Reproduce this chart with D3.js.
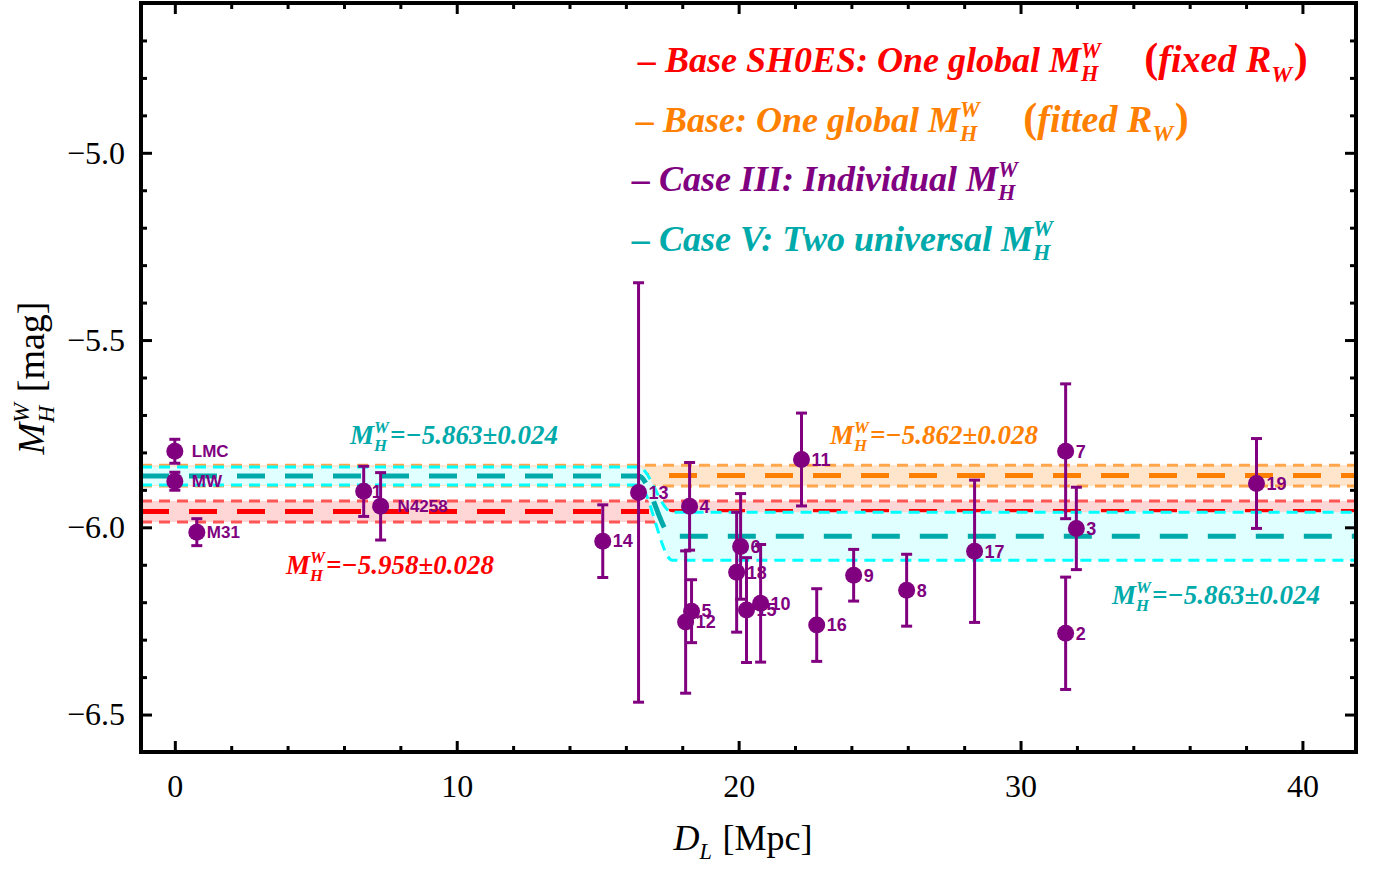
<!DOCTYPE html>
<html>
<head>
<meta charset="utf-8">
<script src="https://cdn.jsdelivr.net/npm/d3@7"></script>
<style>
  body { margin: 0; background: #fff; }
  text { white-space: pre; }
</style>
</head>
<body>
<svg id="chart" width="1387" height="869"></svg>
<script>
// galaxy / host labels, distances [Mpc], M_H^W [mag] and 1-sigma errors
var names  = ["LMC", "MW", "M31", "1", "N4258", "14", "13", "12", "5", "4", "18", "6", "15", "10", "11", "16", "9", "8", "17", "7", "3", "2", "19"];
var dist   = [0.0, 0.0, 0.78, 6.70, 7.30, 15.18, 16.45, 18.12, 18.33, 18.26, 19.93, 20.07, 20.28, 20.78, 22.23, 22.77, 24.08, 25.96, 28.37, 31.6, 31.98, 31.6, 38.37];
var magW   = [-5.797, -5.877, -6.013, -5.904, -5.944, -6.037, -5.907, -6.253, -6.224, -5.944, -6.120, -6.051, -6.221, -6.203, -5.819, -6.261, -6.128, -6.168, -6.064, -5.797, -6.003, -6.283, -5.883];
var magErr = [0.032, 0.024, 0.036, 0.067, 0.090, 0.097, 0.560, 0.190, 0.084, 0.117, 0.160, 0.141, 0.140, 0.157, 0.124, 0.097, 0.069, 0.096, 0.190, 0.180, 0.110, 0.150, 0.120];

// global fits (value, error)
var baseShoes = [-5.958, 0.028];   // fixed R_W
var baseFit   = [-5.862, 0.028];   // fitted R_W
// Case V: two universal values, left / right of the step
var caseVMean = [-5.863, -6.024];
var caseVErr  = [0.024, 0.064];
var caseVStep = [16.45, 17.65];    // D range where the step happens

var xMajor = [0, 10, 20, 30, 40];
var yMajor = [-6.5, -6.0, -5.5, -5.0];

var frame = {left: 141, right: 1356, top: 3, bottom: 752};
var serif = "'Liberation Serif', 'Times New Roman', serif";
var sans = "'Liberation Sans', Arial, sans-serif";
var purple = "#800080";

var svg = d3.select("#chart");

var x = d3.scaleLinear().domain([-1.2, 41.9]).range([frame.left, frame.right]);
var y = d3.scaleLinear().domain([-6.6, -4.6]).range([frame.bottom, frame.top]);
var xd = x.domain();

svg.append("defs").append("clipPath").attr("id", "plotclip")
  .append("rect").attr("x", frame.left).attr("y", frame.top)
  .attr("width", frame.right - frame.left).attr("height", frame.bottom - frame.top);
var plot = svg.append("g").attr("clip-path", "url(#plotclip)");

// ---- bands ----
function flatBand(v, fill, edge, center) {
  plot.append("path")
    .datum(xd)
    .attr("d", d3.area().x(function(d) { return x(d); })
      .y0(y(v[0] - v[1])).y1(y(v[0] + v[1])))
    .attr("fill", fill);
  [v[0] + v[1], v[0] - v[1]].forEach(function(m) {
    plot.append("line").attr("x1", x(xd[0])).attr("x2", x(xd[1]))
      .attr("y1", y(m)).attr("y2", y(m))
      .attr("stroke", edge).attr("stroke-width", 3).attr("stroke-dasharray", "11,7");
  });
  plot.append("line").attr("x1", x(xd[0])).attr("x2", x(xd[1]))
    .attr("y1", y(v[0])).attr("y2", y(v[0]))
    .attr("stroke", center).attr("stroke-width", 5).attr("stroke-dasharray", "28,20");
}
flatBand(baseShoes, "#FFD6D6", "#FF5555", "#FF0000");
flatBand(baseFit, "#FFE5CC", "#FFA64D", "#FF8000");

// Case V step band
var stepPts = [xd[0], caseVStep[0], caseVStep[1], xd[1]];
function side(i) { return i < 2 ? 0 : 1; }
function stepLine(off) {
  return d3.line()
    .x(function(d) { return x(d); })
    .y(function(d, i) { var k = side(i); return y(caseVMean[k] + off * caseVErr[k]); })
    .curve(d3.curveMonotoneX);
}
plot.append("path").datum(stepPts)
  .attr("d", d3.area()
    .x(function(d) { return x(d); })
    .y0(function(d, i) { var k = side(i); return y(caseVMean[k] - caseVErr[k]); })
    .y1(function(d, i) { var k = side(i); return y(caseVMean[k] + caseVErr[k]); })
    .curve(d3.curveMonotoneX))
  .attr("fill", "#E0FFFF");
[1, -1].forEach(function(o) {
  plot.append("path").datum(stepPts).attr("d", stepLine(o))
    .attr("fill", "none").attr("stroke", "#00FFFF").attr("stroke-width", 3).attr("stroke-dasharray", "11,7");
});
plot.append("path").datum(stepPts).attr("d", stepLine(0))
  .attr("fill", "none").attr("stroke", "#00AAAA").attr("stroke-width", 5).attr("stroke-dasharray", "28,20");

// ---- data points ----
var pts = plot.append("g");
names.forEach(function(n, i) {
  var cx = x(dist[i]), cy = y(magW[i]);
  var t = y(magW[i] + magErr[i]), b = y(magW[i] - magErr[i]);
  var g = pts.append("g").attr("stroke", purple).attr("stroke-width", 3);
  g.append("line").attr("x1", cx).attr("x2", cx).attr("y1", t).attr("y2", b);
  g.append("line").attr("x1", cx - 5.5).attr("x2", cx + 5.5).attr("y1", t).attr("y2", t);
  g.append("line").attr("x1", cx - 5.5).attr("x2", cx + 5.5).attr("y1", b).attr("y2", b);
  pts.append("circle").attr("cx", cx).attr("cy", cy).attr("r", 8.5).attr("fill", purple);
  var named = isNaN(+n);
  var off = named && n !== "M31" ? 17 : (n === "1" ? 8 : 10);
  pts.append("text").attr("x", cx + off).attr("y", cy).attr("dy", "0.35em")
    .style("font-family", sans).style("font-weight", "bold").style("font-size", named ? "17px" : "18px")
    .attr("fill", purple).text(n);
});

// ---- frame and ticks ----
function styleAxis(g) {
  g.select(".domain").remove();
  g.selectAll(".tick line").attr("stroke", "#000").attr("stroke-width", 3);
  g.selectAll("text").style("font-family", serif).style("font-size", "32px").attr("fill", "#000");
}
var xMinor = d3.range(0, 42, 2).filter(function(v) { return v % 10 !== 0; });
var yMinor = d3.range(-66, -45, 1).map(function(v) { return v / 10; })
  .filter(function(v) { return Math.abs(v * 2 - Math.round(v * 2)) > 1e-6; });

svg.append("g").attr("transform", "translate(0," + frame.bottom + ")")
  .call(d3.axisBottom(x).tickValues(xMajor).tickSize(-11).tickPadding(22).tickFormat(d3.format("d"))).call(styleAxis);
svg.append("g").attr("transform", "translate(0," + frame.bottom + ")")
  .call(d3.axisBottom(x).tickValues(xMinor).tickSize(-6).tickFormat("")).call(styleAxis);
svg.append("g").attr("transform", "translate(0," + frame.top + ")")
  .call(d3.axisTop(x).tickValues(xMajor).tickSize(-11).tickFormat("")).call(styleAxis);
svg.append("g").attr("transform", "translate(0," + frame.top + ")")
  .call(d3.axisTop(x).tickValues(xMinor).tickSize(-6).tickFormat("")).call(styleAxis);

svg.append("g").attr("transform", "translate(" + frame.left + ",0)")
  .call(d3.axisLeft(y).tickValues(yMajor).tickSize(-11).tickPadding(16)
    .tickFormat(function(d) { return "\u2212" + d3.format(".1f")(-d); })).call(styleAxis);
svg.append("g").attr("transform", "translate(" + frame.left + ",0)")
  .call(d3.axisLeft(y).tickValues(yMinor).tickSize(-6).tickFormat("")).call(styleAxis);
svg.append("g").attr("transform", "translate(" + frame.right + ",0)")
  .call(d3.axisRight(y).tickValues(yMajor).tickSize(-11).tickFormat("")).call(styleAxis);
svg.append("g").attr("transform", "translate(" + frame.right + ",0)")
  .call(d3.axisRight(y).tickValues(yMinor).tickSize(-6).tickFormat("")).call(styleAxis);

svg.append("rect").attr("x", frame.left).attr("y", frame.top)
  .attr("width", frame.right - frame.left).attr("height", frame.bottom - frame.top)
  .attr("fill", "none").attr("stroke", "#000").attr("stroke-width", 4);

// ---- rich text helper (stacked super/subscripts) ----
function mathText(parent, px, py, parts, size, fill, opts) {
  opts = opts || {};
  var g = parent.append("g").attr("fill", fill)
    .style("font-family", serif).style("font-weight", opts.bold ? "bold" : "normal");
  var cx = 0;
  function add(str, xx, yy, sz, italic) {
    var t = g.append("text").attr("x", xx).attr("y", yy).style("font-size", sz + "px")
      .style("font-style", italic ? "italic" : "normal").text(str);
    return t.node().getComputedTextLength();
  }
  parts.forEach(function(p) {
    var it = p.upright ? false : !!opts.italic;
    var sz = p.size || size;
    if (p.gap !== undefined) {
      cx += p.gap;
    } else if (p.t !== undefined) {
      cx += add(p.t, cx, 0, sz, it);
    } else {
      var w = 0;
      if (p.sup) w = Math.max(w, add(p.sup, cx, -sz * 0.4, sz * 0.62, true));
      if (p.sub) w = Math.max(w, add(p.sub, cx, sz * 0.26, sz * 0.62, true));
      cx += w + sz * 0.04;
    }
  });
  var shift = opts.anchor === "middle" ? -cx / 2 : 0;
  g.attr("transform", "translate(" + px + "," + py + ")" + (opts.rotate ? " rotate(" + opts.rotate + ")" : "") + " translate(" + shift + ",0)");
  return g;
}

// ---- legend ----
var legend = [
  {color: "#FF0000", parts: [{t: "\u2013 Base SH0ES: One global M"}, {sup: "W", sub: "H"}, {gap: 42},
    {t: "(", upright: true, size: 42}, {t: "fixed R", size: 38}, {sub: "W", size: 38}, {t: ")", upright: true, size: 42}]},
  {color: "#FF8000", parts: [{t: "\u2013 Base: One global M"}, {sup: "W", sub: "H"}, {gap: 42},
    {t: "(", upright: true, size: 42}, {t: "fitted R", size: 38}, {sub: "W", size: 38}, {t: ")", upright: true, size: 42}]},
  {color: purple,    parts: [{t: "\u2013 Case III: Individual M"}, {sup: "W", sub: "H"}]},
  {color: "#00AAAA", parts: [{t: "\u2013 Case V: Two universal M"}, {sup: "W", sub: "H"}]}
];
var legendX = [638, 636, 632, 632];
legend.forEach(function(l, i) {
  mathText(svg, legendX[i], 72 + i * 59.5, l.parts, 36, l.color, {bold: true, italic: true});
});

// ---- fit annotations ----
function fitLabel(px, py, v, color) {
  mathText(svg, px, py, [{t: "M"}, {sup: "W", sub: "H"}, {t: "=\u2212" + v}], 27, color, {bold: true, italic: true});
}
fitLabel(350, 444, "5.863±0.024", "#00AAAA");
fitLabel(286, 574, "5.958±0.028", "#FF0000");
fitLabel(830, 444, "5.862±0.028", "#FF8000");
fitLabel(1112, 604, "5.863±0.024", "#00AAAA");

// ---- axis titles ----
mathText(svg, 743, 850, [{t: "D"}, {sub: "L"}, {t: " [Mpc]", upright: true}], 36, "#000", {italic: true, anchor: "middle"});
mathText(svg, 44, 378, [{t: "M"}, {sup: "W", sub: "H"}, {t: " [mag]", upright: true}], 38, "#000", {italic: true, anchor: "middle", rotate: -90});
</script>
</body>
</html>
